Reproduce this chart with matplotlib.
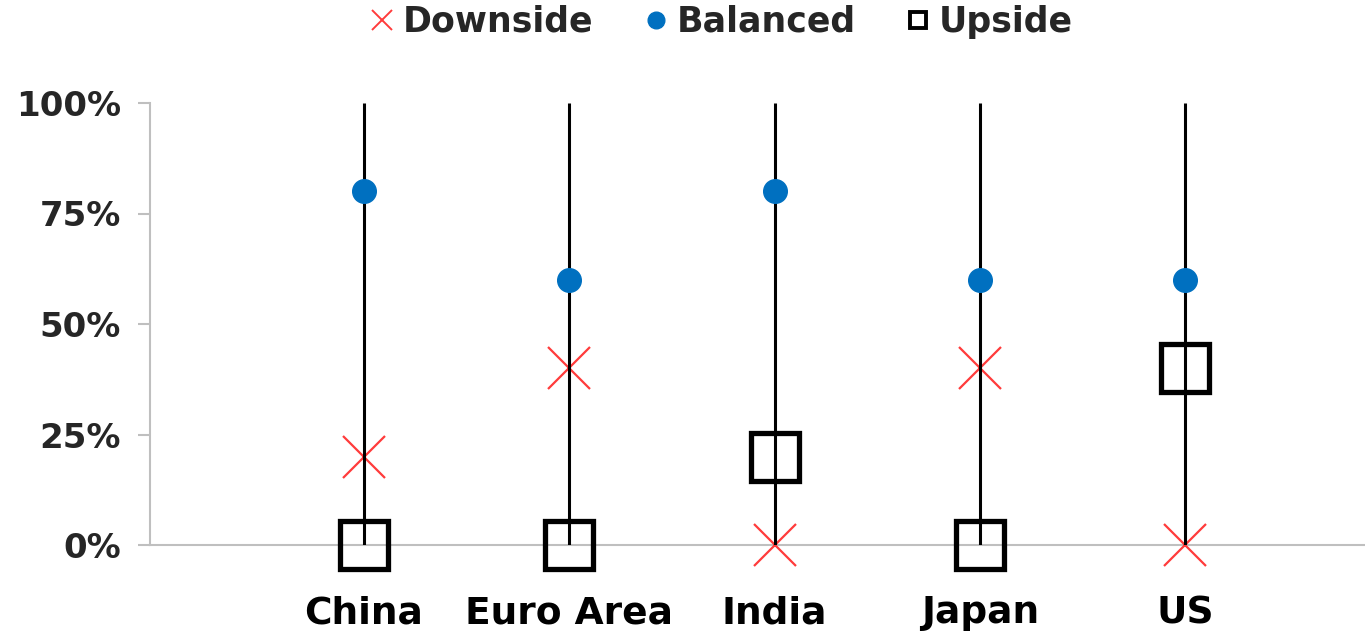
import matplotlib
matplotlib.use("Agg")
import matplotlib.pyplot as plt
import matplotlib.lines as mlines
from matplotlib.ticker import FuncFormatter

categories = ["China", "Euro Area", "India", "Japan", "US"]
downside = [0.20, 0.40, 0.00, 0.40, 0.00]
balanced = [0.80, 0.60, 0.80, 0.60, 0.60]
upside = [0.00, 0.00, 0.20, 0.00, 0.40]
yticks = [0, 0.25, 0.5, 0.75, 1.0]

plt.rcParams['font.family'] = ['DejaVu Sans']
fig = plt.figure(figsize=(13.65, 6.34), dpi=100)
ax = fig.add_axes([150/1365, 1-545/634, 1-150/1365, (545-103)/634])

x = list(range(len(categories)))
ax.vlines(x, 0, 1, colors='black', lw=2.2, zorder=3)
ax.plot(x, downside, ls='none', marker='x', ms=30, mew=1.6, color='#FF3B3B',
        label='Downside', zorder=2, clip_on=False)
ax.plot(x, balanced, ls='none', marker='o', ms=17, color='#0070C0', mec='#0070C0',
        label='Balanced', zorder=4, clip_on=False)
ax.plot(x, upside, ls='none', marker='s', ms=35, mew=3.8, mfc='none', mec='black',
        label='Upside', zorder=4, clip_on=False)

ax.set_xlim(-1.043, 4.877)
ax.set_ylim(0, 1)
ax.set_xticks(x)
ax.set_xticklabels(categories, fontsize=27, fontweight='bold', color='black')
ax.set_yticks(yticks)
ax.yaxis.set_major_formatter(FuncFormatter(lambda v, p: f"{v*100:.0f}%"))
for lab in ax.get_yticklabels():
    lab.set_fontsize(24.5)
    lab.set_fontweight('bold')
    lab.set_color('#262626')
ax.tick_params(axis='x', length=0, pad=36)
ax.tick_params(axis='y', length=9, width=1.5, color='#BFBFBF', pad=12)
for s in ['top', 'right']:
    ax.spines[s].set_visible(False)
for s in ['left', 'bottom']:
    ax.spines[s].set_color('#BFBFBF')
    ax.spines[s].set_linewidth(1.5)
ax.spines['bottom'].set_zorder(1)

l = ['Downside', 'Balanced', 'Upside']
hd = [mlines.Line2D([], [], ls='none', marker='x', ms=15, mew=1.4, color='#FF3B3B'),
      mlines.Line2D([], [], ls='none', marker='o', ms=12, color='#0070C0'),
      mlines.Line2D([], [], ls='none', marker='s', ms=11, mew=2.8, mfc='none', mec='black')]
fig.legend(hd, l, loc='center', bbox_to_anchor=(0.528, 1-22/634), ncol=3, frameon=False,
           prop={'size': 25, 'weight': 'bold'}, handlelength=0.8, handletextpad=0.2,
           columnspacing=1.4, labelcolor='#262626')

fig.savefig('out.png', dpi=100)
